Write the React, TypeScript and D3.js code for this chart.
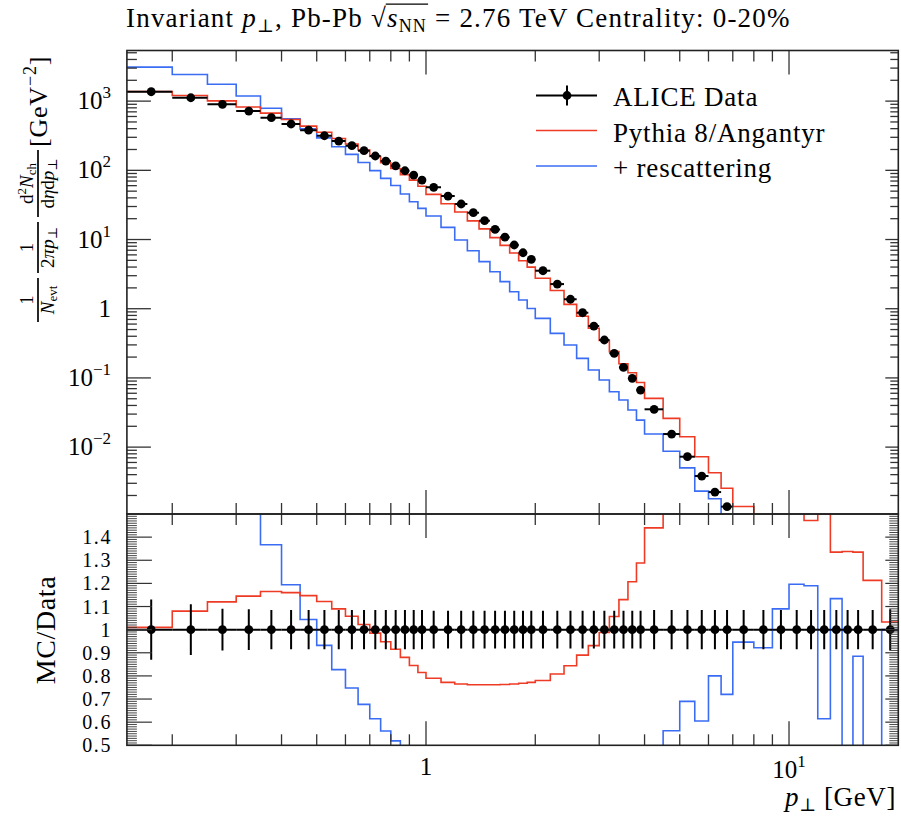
import React, { useLayoutEffect, useRef, useState } from "react";
import * as d3 from "d3";

// ---------- data ----------
const binEdges = [
  0.15, 0.2, 0.25, 0.3, 0.35, 0.4, 0.45, 0.5, 0.55, 0.6, 0.65, 0.7, 0.75, 0.8, 0.85, 0.9, 0.95, 1.0,
  1.1, 1.2, 1.3, 1.4, 1.5, 1.6, 1.7, 1.8, 1.9, 2.0,
  2.2, 2.4, 2.6, 2.8, 3.0, 3.2, 3.4, 3.6, 3.8, 4.0,
  4.5, 5.0, 5.5, 6.0, 6.5, 7.0,
  8, 9, 10, 11, 12, 13, 14, 15, 16, 18, 20,
];

const aliceData = [
  1367, 1119, 899, 719, 576, 467, 380, 316, 265, 227, 192, 161, 136, 116, 98.6, 85.5, 72.4,
  56.8, 42.5, 32.6, 24.4, 18.7, 14.0, 10.8, 8.33, 6.44, 5.17,
  3.54, 2.27, 1.37, 0.875, 0.562, 0.353, 0.227, 0.142, 0.0986, 0.0668,
  0.0352, 0.01545, 0.00727, 0.00382, 0.00224, 0.00138,
  7.5e-4, 3.6e-4, 1.9e-4, 1.1e-4, 6.5e-5, 4.1e-5, 2.7e-5, 1.8e-5, 1.25e-5,
  7.5e-6, 4.0e-6,
];

const aliceRelErr = [
  0.13, 0.11, 0.09, 0.088, 0.085, 0.085, 0.085, 0.085, 0.085, 0.085, 0.085, 0.085, 0.085, 0.085, 0.085, 0.085, 0.085,
  0.082, 0.082, 0.082, 0.082, 0.082, 0.082, 0.082, 0.082, 0.082, 0.082,
  0.082, 0.082, 0.082, 0.082, 0.082, 0.082, 0.082, 0.082, 0.082, 0.082,
  0.085, 0.085, 0.085, 0.085, 0.085, 0.085,
  0.085, 0.085, 0.085, 0.085, 0.085, 0.085, 0.085, 0.085, 0.085,
  0.085, 0.088,
];

const pythiaRatio = [
  1.01, 1.08, 1.12, 1.145, 1.165, 1.16, 1.147, 1.122, 1.09, 1.058, 1.022, 0.985, 0.948, 0.915, 0.88, 0.845, 0.815,
  0.79, 0.772, 0.765, 0.762, 0.762, 0.762, 0.763, 0.765, 0.768, 0.772,
  0.78, 0.808, 0.844, 0.89, 0.931, 0.988, 1.057, 1.13, 1.207, 1.288,
  1.44, 1.685, 1.94, 1.9, 1.9, 1.84,
  1.85, 1.8, 1.7, 1.6, 1.472, 1.5, 1.335, 1.338, 1.335,
  1.213, 1.033,
];

const rescatRatio = [
  2.27, 2.17, 1.95, 1.65, 1.367, 1.194, 1.044, 0.932, 0.827, 0.748, 0.677, 0.615, 0.562, 0.519, 0.461, 0.412, 0.39,
  0.386, 0.353, 0.302, 0.282, 0.256, 0.245, 0.228, 0.211, 0.208, 0.195,
  0.205, 0.194, 0.218, 0.219, 0.231, 0.264, 0.278, 0.338, 0.349, 0.368,
  0.44, 0.563, 0.69, 0.605, 0.8, 0.72,
  0.946, 0.922, 1.09, 1.196, 1.19, 0.615, 1.134, 0.3, 0.885,
  0.35, 1.0,
];

const xMajorTicks = [1, 10];
const xMinorTicks = [0.2, 0.3, 0.4, 0.5, 0.6, 0.7, 0.8, 0.9, 2, 3, 4, 5, 6, 7, 8, 9];
const topYMajor = [1e-2, 1e-1, 1, 10, 100, 1000];
const topYLabels: [string, string][] = [["10", "−2"], ["10", "−1"], ["1", ""], ["10", "1"], ["10", "2"], ["10", "3"]];
const ratioMajor = [0.5, 0.6, 0.7, 0.8, 0.9, 1.0, 1.1, 1.2, 1.3, 1.4];
const ratioLabels = ["0.5", "0.6", "0.7", "0.8", "0.9", "1", "1.1", "1.2", "1.3", "1.4"];
const legendLabels = ["ALICE Data", "Pythia 8/Angantyr", "+ rescattering"];

// ---------- layout ----------
const W = 901, H = 818;
const X0 = 126.9, X1 = 898.3;
const YT0 = 50.5, YT1 = 514, YB1 = 745.3;
const RED = "#ee3b25";
const BLUE = "#3a6cf4";
const FONT = "'Liberation Serif', 'DejaVu Serif', serif";
const TICK = "#333";

export default function App() {
  const x = d3.scaleLog().domain([0.15, 20]).range([X0, X1]);
  const yTop = d3.scaleLog().domain([1.08e-3, 5.39e3]).range([YT1, YT0]);
  const yBot = d3.scaleLinear().domain([0.5, 1.5]).range([YB1, YT1]);

  const nb = aliceData.length;
  const centers = d3.range(nb).map((i) => (binEdges[i] + binEdges[i + 1]) / 2);
  const pythiaVals = aliceData.map((d, i) => d * pythiaRatio[i]);
  const rescatVals = aliceData.map((d, i) => d * rescatRatio[i]);

  const steps = (vals: number[]) => {
    const pts: [number, number][] = [];
    vals.forEach((v, i) => {
      pts.push([binEdges[i], v]);
      pts.push([binEdges[i + 1], v]);
    });
    return pts;
  };
  const lineTop = d3.line<[number, number]>().x((d) => x(d[0])).y((d) => yTop(d[1]));
  const lineBot = d3.line<[number, number]>().x((d) => x(d[0])).y((d) => yBot(d[1]));

  const titleRef = useRef<SVGTextElement>(null);
  const [ov, setOv] = useState<null | { x1: number; x2: number; y: number }>(null);
  useLayoutEffect(() => {
    const t = titleRef.current;
    if (!t) return;
    try {
      const a = t.getExtentOfChar(20);
      const b = t.getExtentOfChar(23);
      setOv({ x1: a.x + a.width - 1.2, x2: b.x + b.width + 1, y: a.y + 1.2 });
    } catch (e) {}
  }, []);

  // tick helpers
  const topYMinor: number[] = [];
  for (let e = -3; e <= 3; e++) for (let k = 2; k <= 9; k++) {
    const v = k * Math.pow(10, e);
    if (v > 1.08e-3 && v < 5.39e3) topYMinor.push(v);
  }
  const ratioMinor: number[] = [];
  for (let k = 51; k < 150; k++) if (k % 10 !== 0) ratioMinor.push(k / 100);

  const xTickLines = (yEdge: number, dir: number, key: string) => (
    <g key={key} stroke={TICK} strokeWidth={1.3}>
      {xMajorTicks.map((t) => (
        <line key={"M" + t} x1={x(t)} x2={x(t)} y1={yEdge} y2={yEdge + dir * 24} />
      ))}
      {xMinorTicks.map((t) => (
        <line key={"m" + t} x1={x(t)} x2={x(t)} y1={yEdge} y2={yEdge + dir * 11} />
      ))}
    </g>
  );

  const dot = (cx: number, cy: number, k: string) => <circle key={k} cx={cx} cy={cy} r={4.4} fill="#000" />;

  return (
    <svg width={W} height={H} style={{ position: "absolute", left: 0, top: 0, background: "#fff" }} fontFamily={FONT}>
      <defs>
        <clipPath id="clipTop"><rect x={X0} y={YT0} width={X1 - X0} height={YT1 - YT0} /></clipPath>
        <clipPath id="clipBot"><rect x={X0} y={YT1} width={X1 - X0} height={YB1 - YT1} /></clipPath>
      </defs>
      <rect x={0} y={0} width={W} height={H} fill="#fff" />

      {/* Title */}
      <text ref={titleRef} x={126} y={27} fontSize={27} letterSpacing={1.2} fill="#000">
        {"Invariant "}
        <tspan fontStyle="italic">p</tspan>
        <tspan fontSize={18} dy={5}>⊥</tspan>
        <tspan dy={-5}>{", Pb-Pb "}</tspan>
        <tspan>√</tspan>
        <tspan fontStyle="italic">s</tspan>
        <tspan fontSize={18} dy={5}>NN</tspan>
        <tspan dy={-5}>{" = 2.76 TeV Centrality: 0-20%"}</tspan>
      </text>
      {ov && <line x1={ov.x1} x2={ov.x2} y1={ov.y} y2={ov.y} stroke="#000" strokeWidth={1.3} />}

      {/* ---- top panel ---- */}
      <g clipPath="url(#clipTop)">
        <path d={lineTop(steps(rescatVals)) || ""} fill="none" stroke={BLUE} strokeWidth={1.6} />
        <path d={lineTop(steps(pythiaVals)) || ""} fill="none" stroke={RED} strokeWidth={1.6} />
        {aliceData.map((v, i) => (
          <g key={"dt" + i}>
            <line x1={x(binEdges[i])} x2={x(binEdges[i + 1])} y1={yTop(v)} y2={yTop(v)} stroke="#000" strokeWidth={2} />
            <line x1={x(centers[i])} x2={x(centers[i])} y1={yTop(v * (1 + aliceRelErr[i]))} y2={yTop(v * (1 - aliceRelErr[i]))} stroke="#000" strokeWidth={2} />
            {dot(x(centers[i]), yTop(v), "d" + i)}
          </g>
        ))}
      </g>

      {/* top panel ticks */}
      {xTickLines(YT0, 1, "xt1")}
      {xTickLines(YT1, -1, "xt2")}
      <g stroke={TICK} strokeWidth={1.3}>
        {topYMajor.map((t) => (
          <g key={"ty" + t}>
            <line x1={X0} x2={X0 + 24} y1={yTop(t)} y2={yTop(t)} />
            <line x1={X1} x2={X1 - 13} y1={yTop(t)} y2={yTop(t)} />
          </g>
        ))}
        {topYMinor.map((t) => (
          <g key={"tym" + t}>
            <line x1={X0} x2={X0 + 10} y1={yTop(t)} y2={yTop(t)} />
            <line x1={X1} x2={X1 - 8} y1={yTop(t)} y2={yTop(t)} />
          </g>
        ))}
      </g>
      {topYMajor.map((t, i) => (
        <text key={"tyl" + t} x={111} y={yTop(t) + 8} textAnchor="end" fontSize={25} fill="#000">
          {topYLabels[i][0]}
          {topYLabels[i][1] && <tspan fontSize={17} dy={-11}>{topYLabels[i][1]}</tspan>}
        </text>
      ))}

      {/* top y title (rotated) */}
      <g transform="translate(38,0) rotate(-90)" fill="#000">
        <text x={-300} y={-5} textAnchor="middle" fontSize={19}>1</text>
        <line x1={-322} x2={-278} y1={0} y2={0} stroke="#000" strokeWidth={1.7} />
        <text x={-300} y={16} textAnchor="middle" fontSize={19}>
          <tspan fontStyle="italic">N</tspan>
          <tspan fontSize={13} dy={3}>evt</tspan>
        </text>

        <text x={-247.5} y={-5} textAnchor="middle" fontSize={19}>1</text>
        <line x1={-273} x2={-222} y1={0} y2={0} stroke="#000" strokeWidth={1.7} />
        <text x={-247.5} y={16} textAnchor="middle" fontSize={19}>
          2<tspan fontStyle="italic">πp</tspan>
          <tspan fontSize={13} dy={3}>⊥</tspan>
        </text>

        <text x={-183.5} y={-5} textAnchor="middle" fontSize={19}>
          d<tspan fontSize={13} dy={-7}>2</tspan>
          <tspan fontStyle="italic" dy={7}>N</tspan>
          <tspan fontSize={13} dy={3}>ch</tspan>
        </text>
        <line x1={-217} x2={-150} y1={0} y2={0} stroke="#000" strokeWidth={1.7} />
        <text x={-183.5} y={16} textAnchor="middle" fontSize={19}>
          d<tspan fontStyle="italic">η</tspan>d<tspan fontStyle="italic">p</tspan>
          <tspan fontSize={13} dy={3}>⊥</tspan>
        </text>

        <text x={-147} y={9} fontSize={26} letterSpacing={0.8}>
          [GeV<tspan fontSize={18} dy={-11}>−2</tspan>
          <tspan dy={11}>]</tspan>
        </text>
      </g>

      {/* legend */}
      <g>
        <line x1={536} x2={597} y1={95.5} y2={95.5} stroke="#000" strokeWidth={2} />
        <line x1={567} x2={567} y1={85.5} y2={105.5} stroke="#000" strokeWidth={2} />
        <circle cx={567} cy={95.5} r={4.4} fill="#000" />
        <line x1={536} x2={597} y1={130.5} y2={130.5} stroke={RED} strokeWidth={1.6} />
        <line x1={536} x2={597} y1={166} y2={166} stroke={BLUE} strokeWidth={1.6} />
        {legendLabels.map((l, i) => (
          <text key={l} x={613} y={106 + i * 35.5} fontSize={27} letterSpacing={0.8} fill="#000">{l}</text>
        ))}
      </g>

      {/* ---- ratio panel ---- */}
      <g clipPath="url(#clipBot)">
        <path d={lineBot(steps(rescatRatio)) || ""} fill="none" stroke={BLUE} strokeWidth={1.6} />
        <path d={lineBot(steps(pythiaRatio)) || ""} fill="none" stroke={RED} strokeWidth={1.6} />
        {aliceData.map((v, i) => (
          <g key={"dr" + i}>
            <line x1={x(binEdges[i])} x2={x(binEdges[i + 1])} y1={yBot(1)} y2={yBot(1)} stroke="#000" strokeWidth={2} />
            <line x1={x(centers[i])} x2={x(centers[i])} y1={yBot(1 + aliceRelErr[i])} y2={yBot(1 - aliceRelErr[i])} stroke="#000" strokeWidth={2} />
            {dot(x(centers[i]), yBot(1), "r" + i)}
          </g>
        ))}
      </g>
      {xTickLines(YT1, 1, "xb1")}
      {xTickLines(YB1, -1, "xb2")}
      <g stroke={TICK} strokeWidth={1.2}>
        {ratioMajor.map((t) => (
          <g key={"ry" + t}>
            <line x1={X0} x2={X0 + 25} y1={yBot(t)} y2={yBot(t)} />
            <line x1={X1} x2={X1 - 13} y1={yBot(t)} y2={yBot(t)} />
          </g>
        ))}
        {ratioMinor.map((t) => (
          <g key={"rym" + t}>
            <line x1={X0} x2={X0 + 10} y1={yBot(t)} y2={yBot(t)} strokeWidth={0.9} />
            <line x1={X1} x2={X1 - 9} y1={yBot(t)} y2={yBot(t)} strokeWidth={0.9} />
          </g>
        ))}
      </g>
      {ratioMajor.map((t, i) => (
        <text key={"ryl" + t} x={112} y={yBot(t) + 7} textAnchor="end" fontSize={20} letterSpacing={1.6} fill="#000">{ratioLabels[i]}</text>
      ))}
      <text transform="translate(55,630) rotate(-90)" textAnchor="middle" fontSize={28} letterSpacing={0.6} fill="#000">MC/Data</text>

      {/* x tick labels */}
      <text x={x(1)} y={775} textAnchor="middle" fontSize={25} fill="#000">1</text>
      <text x={x(10)} y={778} textAnchor="middle" fontSize={25} fill="#000">
        10<tspan fontSize={17} dy={-11}>1</tspan>
      </text>
      <text x={896} y={806} textAnchor="end" fontSize={27} letterSpacing={0.6} fill="#000">
        <tspan fontStyle="italic">p</tspan>
        <tspan fontSize={18} dy={5}>⊥</tspan>
        <tspan dy={-5}>{" [GeV]"}</tspan>
      </text>

      {/* frames */}
      <rect x={X0} y={YT0} width={X1 - X0} height={YT1 - YT0} fill="none" stroke="#222" strokeWidth={1.6} />
      <rect x={X0} y={YT1} width={X1 - X0} height={YB1 - YT1} fill="none" stroke="#222" strokeWidth={1.6} />
    </svg>
  );
}
